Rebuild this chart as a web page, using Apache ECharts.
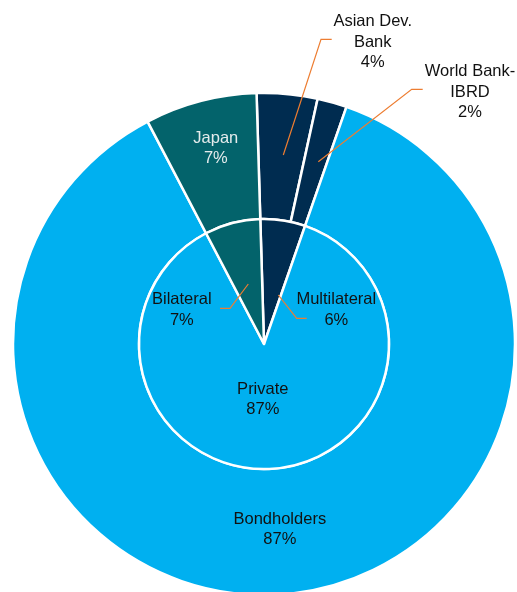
<!DOCTYPE html>
<html><head><meta charset="utf-8">
<script src="https://cdn.jsdelivr.net/npm/echarts@6/dist/echarts.min.js"></script>
<style>html,body{margin:0;padding:0;background:#fff}#c{width:517px;height:592px}</style>
</head><body><div id="c"></div>
<script>
// ---- data ----
const outerNames = ['Asian Dev.\nBank', 'World Bank-\nIBRD', 'Bondholders', 'Japan'];
const outerValues = [3.9, 1.9, 87.0, 7.2];
const outerPctLabels = ['4%', '2%', '87%', '7%'];
const innerNames = ['Multilateral', 'Private', 'Bilateral'];
const innerValues = [5.8, 87.0, 7.2];
const innerPctLabels = ['6%', '87%', '7%'];

// ---- styles / layout ----
const BLUE = '#00B0F0', TEAL = '#03636B', NAVY = '#002C50';
const outerColors = [NAVY, NAVY, BLUE, TEAL];
const innerColors = [NAVY, BLUE, TEAL];
const CENTER = [264, 344];
const R_IN = 125, R_OUT = 251;
const LEADER = '#ED7D31';
const FONT = "'Liberation Sans', Arial, sans-serif";

const outerLayout = [
  {x: 372.7, y: 42, line: [[283.3, 155], [321, 39.3], [331.7, 39.3]]},
  {x: 470, y: 92, line: [[318.3, 161.7], [411.7, 89.3], [422.7, 89.3]]},
  {x: 279.8, y: 529.3},
  {x: 215.8, y: 148.8}
];
const innerLayout = [
  {x: 336.3, y: 310, line: [[278.3, 295], [296.7, 318.3], [306.7, 318.3]]},
  {x: 262.8, y: 399.7},
  {x: 181.8, y: 310, line: [[248.3, 284], [230, 308.3], [220, 308.3]]}
];

function mkData(names, values, cols, textColors) {
  return names.map((n, i) => ({
    name: n, value: values[i],
    itemStyle: {color: cols[i]},
    label: {color: textColors[i]}
  }));
}

function mkLayout(layout) {
  return function (p) {
    const L = layout[p.dataIndex];
    return {x: L.x, y: L.y, align: 'center', verticalAlign: 'middle'};
  };
}

const leaders = outerLayout.concat(innerLayout).filter(L => L.line).map(L => ({
  type: 'polyline', z: 100, silent: true,
  shape: {points: L.line},
  style: {stroke: LEADER, lineWidth: 1.2, fill: null}
}));

const common = {
  type: 'pie', center: CENTER, startAngle: 91.7, clockwise: true,
  avoidLabelOverlap: false, animation: false, silent: true,
  itemStyle: {borderColor: '#fff', borderWidth: 2.5},
  label: {show: true, position: 'outside', fontFamily: FONT, fontSize: 16.5, lineHeight: 20.3, align: 'center'},
  labelLine: {show: false}
};

const chart = echarts.init(document.getElementById('c'), null, {renderer: 'canvas'});
chart.setOption({
  backgroundColor: '#fff',
  graphic: leaders,
  series: [
    Object.assign({}, common, {
      name: 'outer', radius: [R_IN, R_OUT],
      data: mkData(outerNames, outerValues, outerColors, ['#111', '#111', '#111', '#E4EBEC']),
      label: Object.assign({}, common.label, {formatter: p => outerNames[p.dataIndex] + '\n' + outerPctLabels[p.dataIndex]}),
      labelLayout: mkLayout(outerLayout)
    }),
    Object.assign({}, common, {
      name: 'inner', radius: [0, R_IN],
      data: mkData(innerNames, innerValues, innerColors, ['#111', '#111', '#111']),
      label: Object.assign({}, common.label, {formatter: p => innerNames[p.dataIndex] + '\n' + innerPctLabels[p.dataIndex]}),
      labelLayout: mkLayout(innerLayout)
    })
  ]
});
</script></body></html>
